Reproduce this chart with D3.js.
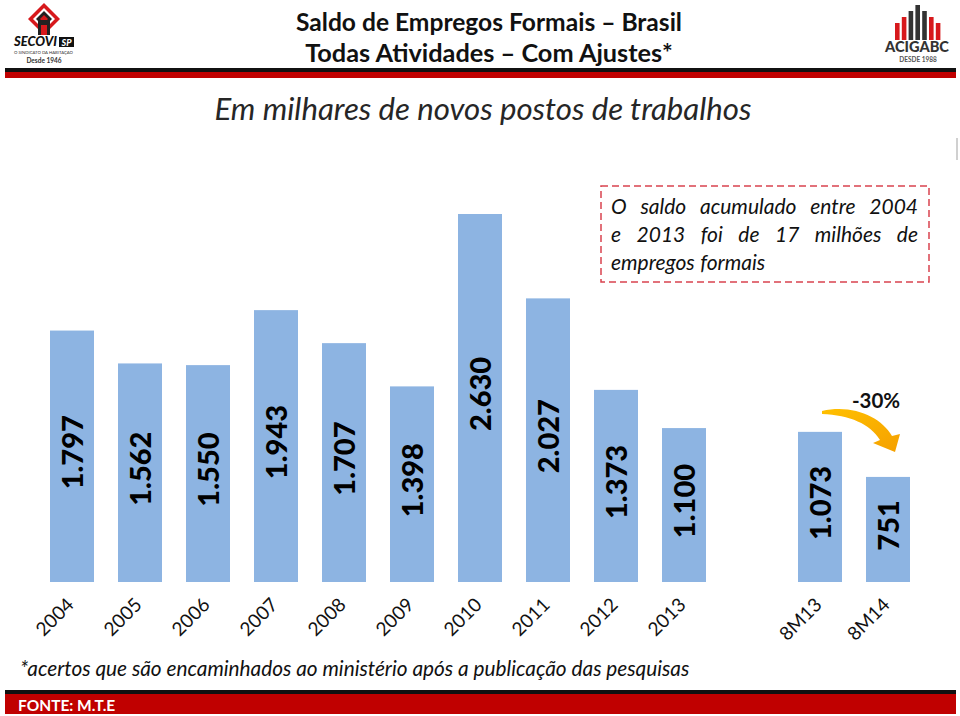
<!DOCTYPE html>
<html><head><meta charset="utf-8">
<script src="https://cdn.jsdelivr.net/npm/d3@7"></script>
<style>body{margin:0;background:#fff}svg{display:block}</style>
</head><body>
<svg id="c" width="960" height="716"></svg>
<script>
const categories = ["2004","2005","2006","2007","2008","2009","2010","2011","2012","2013","gap","8M13","8M14"];
const values = [1797,1562,1550,1943,1707,1398,2630,2027,1373,1100,null,1073,751];
const valueLabels = ["1.797","1.562","1.550","1.943","1.707","1.398","2.630","2.027","1.373","1.100","","1.073","751"];
const tickLabels = ["2004","2005","2006","2007","2008","2009","2010","2011","2012","2013","","8M13","8M14"];
const titleLines = ["Saldo de Empregos Formais \u2013 Brasil","Todas Atividades \u2013 Com Ajustes*"];
const subtitle = "Em milhares de novos postos de trabalhos";
const noteLines = ["O saldo acumulado entre 2004","e 2013 foi de 17 milhões de","empregos formais"];
const changeLabel = "-30%";
const footnote = "*acertos que são encaminhados ao ministério após a publicação das pesquisas";
const source = "FONTE: M.T.E";

const F = "Lato, 'Open Sans', sans-serif";
const svg = d3.select("#c");
const barColor = "#8db4e2";

function fitWidth(sel, target){
  const fs = parseFloat(sel.attr("font-size"));
  const w = sel.node().getComputedTextLength();
  sel.attr("font-size", fs*target/w);
}

// header bands
svg.append("rect").attr("x",5).attr("y",68).attr("width",951).attr("height",4).attr("fill","#111");
svg.append("rect").attr("x",5).attr("y",72).attr("width",951).attr("height",6).attr("fill","#c00000");
svg.append("rect").attr("x",956).attr("y",138).attr("width",2).attr("height",22).attr("fill","#d0d0d0");

// title
const t1 = svg.append("text").attr("x",489).attr("y",31).attr("text-anchor","middle")
  .attr("font-family",F).attr("font-weight","bold").attr("font-size",24).attr("fill","#111").text(titleLines[0]);
fitWidth(t1,386);
const t2 = svg.append("text").attr("x",489).attr("y",62).attr("text-anchor","middle")
  .attr("font-family",F).attr("font-weight","bold").attr("font-size",24).attr("fill","#111").text(titleLines[1]);
fitWidth(t2,368);

// subtitle
const st = svg.append("text").attr("x",483).attr("y",120).attr("text-anchor","middle")
  .attr("font-family",F).attr("font-style","italic").attr("font-size",30).attr("fill","#262626").text(subtitle);
fitWidth(st,537);

// SECOVI logo
const lg = svg.append("g");
lg.append("polygon").attr("points","44,3 60,19 44,35 28,19").attr("fill","#d7191c");
lg.append("polygon").attr("points","44,8 55,19 44,30 33,19").attr("fill","#fff");
lg.append("polygon").attr("points","44,11 52,19 44,27 36,19").attr("fill","#222");
lg.append("polygon").attr("points","44,15 48,19 44,23 40,19").attr("fill","#d7191c");
lg.append("rect").attr("x",38).attr("y",20).attr("width",12).attr("height",15).attr("fill","#222");
lg.append("rect").attr("x",41).attr("y",25).attr("width",6).attr("height",10).attr("fill","#d7191c");
const sec = lg.append("text").attr("x",14).attr("y",46).attr("font-family",F).attr("font-weight","900").attr("font-style","italic")
  .attr("font-size",13).attr("fill","#111").text("SECOVI");
fitWidth(sec,43);
lg.append("rect").attr("x",59).attr("y",37).attr("width",15).attr("height",10).attr("fill","#111");
lg.append("text").attr("x",66.5).attr("y",45.5).attr("text-anchor","middle").attr("font-family",F).attr("font-weight","900")
  .attr("font-style","italic").attr("font-size",9).attr("fill","#fff").text("SP");
const sind = lg.append("text").attr("x",14).attr("y",54).attr("font-family",F).attr("font-size",4.4).attr("fill","#333").text("O SINDICATO DA HABITAÇÃO");
fitWidth(sind,59);
lg.append("text").attr("x",44).attr("y",62.5).attr("text-anchor","middle").attr("font-family",F).attr("font-weight","bold")
  .attr("font-size",6.5).attr("fill","#333").text("Desde 1946");

// ACIGABC logo
const ag = svg.append("g");
const logoBars = [{h:17,c:"#d7191c"},{h:23,c:"#d7191c"},{h:29,c:"#333"},{h:35,c:"#333"},{h:29,c:"#333"},{h:23,c:"#d7191c"},{h:17,c:"#d7191c"}];
logoBars.forEach((b,i)=>{
  ag.append("rect").attr("x",895+i*6.8).attr("y",40-b.h).attr("width",4.6).attr("height",b.h).attr("fill",b.c);
});
const acig = ag.append("text").attr("x",917).attr("y",52).attr("text-anchor","middle").attr("font-family",F).attr("font-weight","900")
  .attr("font-size",13).attr("fill","#333").text("ACIGABC");
fitWidth(acig,64);
ag.append("text").attr("x",918).attr("y",62).attr("text-anchor","middle").attr("font-family",F).attr("font-weight","bold")
  .attr("font-size",6.5).attr("fill","#555").text("DESDE 1988");

// scales
const x = d3.scaleBand().domain(categories).range([38,922]).paddingInner(24/68).paddingOuter(12/68);
const y = d3.scaleLinear().domain([0,2630]).range([582,214]);

const data = categories.map((c,i)=>({c, v:values[i], lab:valueLabels[i], tick:tickLabels[i]}));
const bars = data.filter(d=>d.v!=null);

svg.append("g").selectAll("rect").data(bars).join("rect")
  .attr("x",d=>x(d.c)).attr("width",x.bandwidth())
  .attr("y",d=>y(d.v)).attr("height",d=>y(0)-y(d.v)).attr("fill",barColor);

svg.append("g").selectAll("text").data(bars).join("text")
  .attr("transform",d=>`translate(${x(d.c)+x.bandwidth()/2+10.5},${(y(d.v)+y(0))/2 - 4}) rotate(-90)`)
  .attr("text-anchor","middle").attr("font-family",F).attr("font-weight","900").attr("font-size",29)
  .attr("fill","#000").text(d=>d.lab);

// x axis labels
const xAxis = d3.axisBottom(x).tickSize(0).tickFormat((d,i)=>tickLabels[i]);
const ax = svg.append("g").attr("transform","translate(0,582)").call(xAxis);
ax.select(".domain").remove();
ax.selectAll("text").attr("font-family",F).attr("font-size",19).attr("fill","#111")
  .attr("text-anchor","end").attr("dy",0).attr("y",0)
  .attr("transform","translate(3,24) rotate(-45)");

// annotation box
svg.append("rect").attr("x",601).attr("y",186).attr("width",328).attr("height",96)
  .attr("fill","none").attr("stroke","#d9434f").attr("stroke-width",1.5).attr("stroke-dasharray","7,4");
const ng = svg.append("g").attr("font-family",F).attr("font-style","italic").attr("font-size",21).attr("fill","#111");
noteLines.forEach((line,li)=>{
  const words = line.split(" ");
  const yy = 214 + li*28;
  const nodes = words.map(w=>ng.append("text").attr("y",yy).text(w));
  const widths = nodes.map(n=>n.node().getComputedTextLength());
  const justify = li < noteLines.length-1;
  const gap = justify ? (918-611-d3.sum(widths))/(words.length-1) : 5.5;
  let xx = 611;
  nodes.forEach((n,i)=>{ n.attr("x",xx); xx += widths[i]+gap; });
});

// -30% label and arrow
const last = data[data.length-1];
svg.append("text").attr("x",x(last.c)+x.bandwidth()/2-12).attr("y",408).attr("text-anchor","middle")
  .attr("font-family",F).attr("font-weight","bold").attr("font-size",20.5).attr("fill","#111").text(changeLabel);
const defs = svg.append("defs");
const grad = defs.append("linearGradient").attr("id","ag").attr("x1","0").attr("y1","0").attr("x2","1").attr("y2","1");
grad.append("stop").attr("offset","0").attr("stop-color","#ffc000");
grad.append("stop").attr("offset","1").attr("stop-color","#f5a000");
svg.append("path")
  .attr("d","M822,411 C853,404 881,417 892,436 L900,434 L895,452 L873,443 L880,440 C870,424 850,415 822,414 Z")
  .attr("fill","url(#ag)");

// footnote
const fn = svg.append("text").attr("x",20).attr("y",676).attr("font-family",F).attr("font-style","italic")
  .attr("font-size",20).attr("fill","#111").text(footnote);
fitWidth(fn,670);

// footer bands
svg.append("rect").attr("x",5).attr("y",690).attr("width",951).attr("height",4).attr("fill","#111");
svg.append("rect").attr("x",5).attr("y",694).attr("width",951).attr("height",20).attr("fill","#c00000");
svg.append("text").attr("x",18).attr("y",710.5).attr("font-family",F).attr("font-weight","bold")
  .attr("font-size",15.5).attr("fill","#fff").text(source);
</script>
</body></html>
